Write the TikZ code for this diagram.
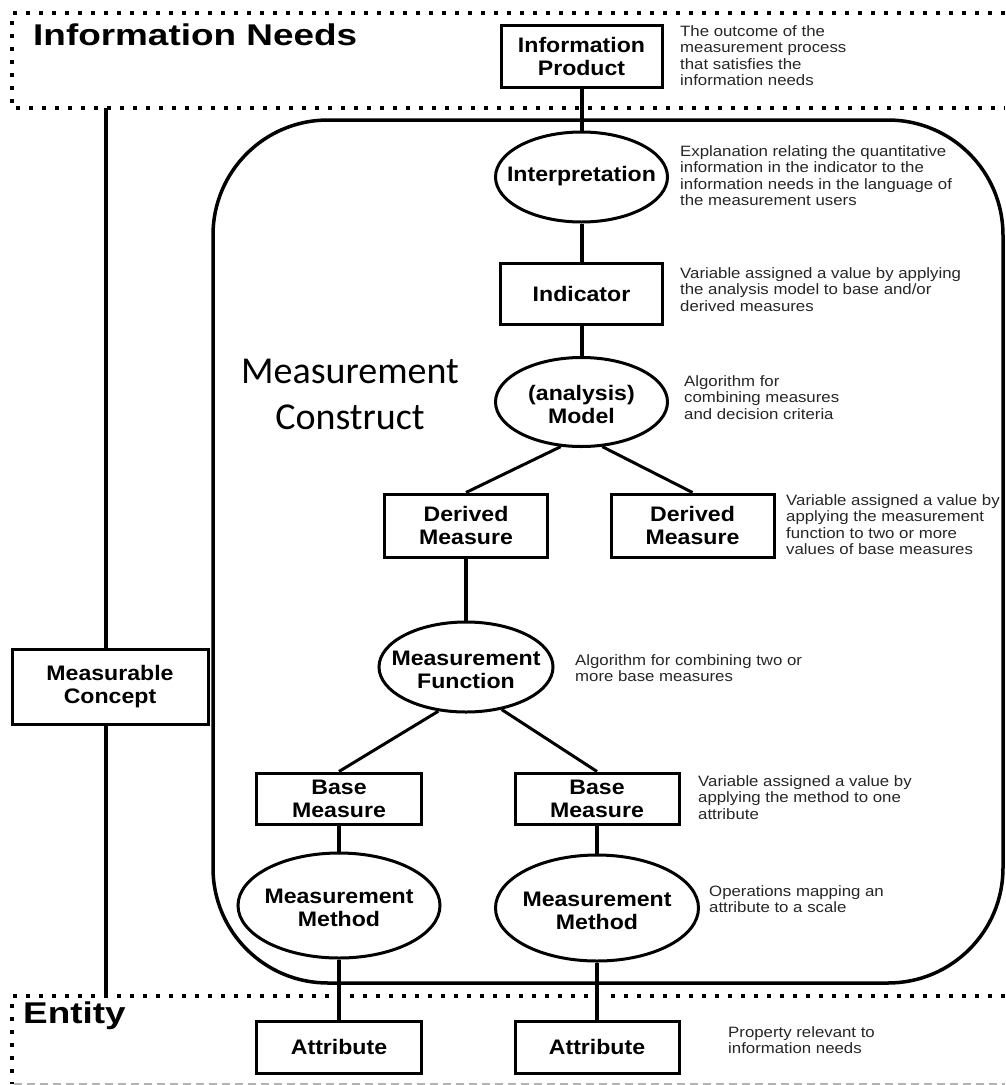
\documentclass[tikz,border=0pt]{standalone}
\usepackage{fontspec}
\setmainfont{Liberation Sans}
\newfontfamily\descfont{Liberation Sans}[FakeStretch=1.12]
\newfontfamily\labfont{Liberation Sans}[FakeStretch=1.1]
\newfontfamily\headfont{Liberation Sans}[FakeStretch=1.23]
\newfontfamily\calib{Carlito}
\usetikzlibrary{shapes.geometric}
% zero-width labels so each ellipse keeps its own size
\newcommand\ovaltext[1]{\makebox[0pt]{\begin{tabular}{@{}c@{}}#1\end{tabular}}}
\newcommand\ovaltwo[1]{\raisebox{-10.5pt}[0pt][0pt]{\ovaltext{#1}}}
\tikzset{
  lab/.style={font=\labfont\bfseries\fontsize{21}{23}\selectfont, align=center, inner sep=0pt, text=black},
  boxnode/.style={lab, draw, line width=3pt, rectangle},
  ovalnode/.style={lab, draw, line width=3pt, ellipse},
  desc/.style={font=\descfont\fontsize{15}{16.5}\selectfont, align=left, anchor=north west, inner sep=0pt, text=black!85},
  head/.style={font=\headfont\bfseries\fontsize{30}{32}\selectfont, anchor=base west, inner sep=0pt},
  link/.style={line width=4pt},
  slant/.style={line width=3pt},
  zone/.style={line width=4pt, dash pattern=on 4pt off 9pt},
}
\begin{document}
\begin{tikzpicture}[x=1pt, y=-1pt]
\useasboundingbox[fill=white] (0,0) rectangle (1005,1085);

% information-needs zone
\draw[zone] (1005,13) -- (12,13) -- (12,108) -- (1005,108);
\node[head] (inneeds) at (33,45) {Information Needs};

% entity zone
\draw[zone] (1005,996) -- (609,996);
\draw[zone] (588,996) -- (349,996);
\draw[zone] (329,996) -- (12,996) -- (12,1084);
\draw[black!30, line width=1.5pt, dash pattern=on 8pt off 5pt] (14,1084) -- (1005,1084);
\node[head] (entity) at (23,1023) {Entity};

% measurement construct
\draw[line width=3.5pt, rounded corners=115pt] (213,120) rectangle (1003,983);
\node[font=\calib\fontsize{38}{46}\selectfont, align=center, inner sep=0pt] (mcons) at (350,394) {Measurement\\Construct};

% nodes
\node[boxnode, minimum width=161pt, minimum height=62pt] (ip) at (581.5,56) {Information\\Product};
\node[ovalnode, minimum width=172pt, minimum height=90pt] (interp) at (581.5,177) {\ovaltext{Interpretation}};
\node[boxnode, minimum width=162pt, minimum height=61pt] (ind) at (581.5,293.5) {Indicator};
\node[ovalnode, minimum width=172pt, minimum height=89pt] (model) at (581.5,402) {\ovaltwo{(analysis)\\Model}};
\node[boxnode, minimum width=163pt, minimum height=63pt] (dl) at (466,525.5) {Derived\\Measure};
\node[boxnode, minimum width=163pt, minimum height=63pt] (dr) at (692.5,525.5) {Derived\\Measure};
\node[ovalnode, minimum width=174pt, minimum height=90pt] (mf) at (466,667) {\ovaltwo{Measurement\\Function}};
\node[boxnode, minimum width=165pt, minimum height=51pt] (bl) at (339,798.5) {Base\\Measure};
\node[boxnode, minimum width=164pt, minimum height=51pt] (br) at (597,798.5) {Base\\Measure};
\node[ovalnode, minimum width=202pt, minimum height=105pt] (mml) at (339,905.5) {\ovaltwo{Measurement\\Method}};
\node[ovalnode, minimum width=203pt, minimum height=106pt] (mmr) at (597,908) {\ovaltwo{Measurement\\Method}};
\node[boxnode, minimum width=165pt, minimum height=52pt] (al) at (339,1047) {Attribute};
\node[boxnode, minimum width=164pt, minimum height=52pt] (ar) at (597,1047) {Attribute};
\node[boxnode, minimum width=196pt, minimum height=75pt] (mc) at (110,686.5) {Measurable\\Concept};

% connectors
\coordinate (mctop) at (106,108);
\coordinate (mcbot) at (106,996);
\draw[link] (mctop) -- (mctop |- mc.north);
\draw[link] (mcbot |- mc.south) -- (mcbot);
\draw[link] (ip.south) -- (interp.north);
\draw[link] (interp.south) -- (ind.north);
\draw[link] (ind.south) -- (model.north);
\draw[slant] (model.245) -- (dl.north);
\draw[slant] (model.295) -- (dr.north);
\draw[link] (dl.south) -- (mf.north);
\draw[slant] (mf.238) -- (bl.north);
\draw[slant] (mf.310) -- (br.north);
\draw[link] (bl.south) -- (mml.north);
\draw[link] (br.south) -- (mmr.north);
\draw[link] (mml.south) -- (al.north);
\draw[link] (mmr.south) -- (ar.north);

% descriptions
\node[desc] (d1) at (680,25) {The outcome of the\\measurement process\\that satisfies the\\information needs};
\node[desc] (d2) at (680,145) {Explanation relating the quantitative\\information in the indicator to the\\information needs in the language of\\the measurement users};
\node[desc] (d3) at (680,267) {Variable assigned a value by applying\\the analysis model to base and/or\\derived measures};
\node[desc] (d4) at (684,375) {Algorithm for\\combining measures\\and decision criteria};
\node[desc] (d5) at (786,494) {Variable assigned a value by\\applying the measurement\\function to two or more\\values of base measures};
\node[desc] (d6) at (575,654) {Algorithm for combining two or\\more base measures};
\node[desc] (d7) at (698,775) {Variable assigned a value by\\applying the method to one\\attribute};
\node[desc] (d8) at (709,885) {Operations mapping an\\attribute to a scale};
\node[desc] (d9) at (728,1026) {Property relevant to\\information needs};
\end{tikzpicture}
\end{document}
